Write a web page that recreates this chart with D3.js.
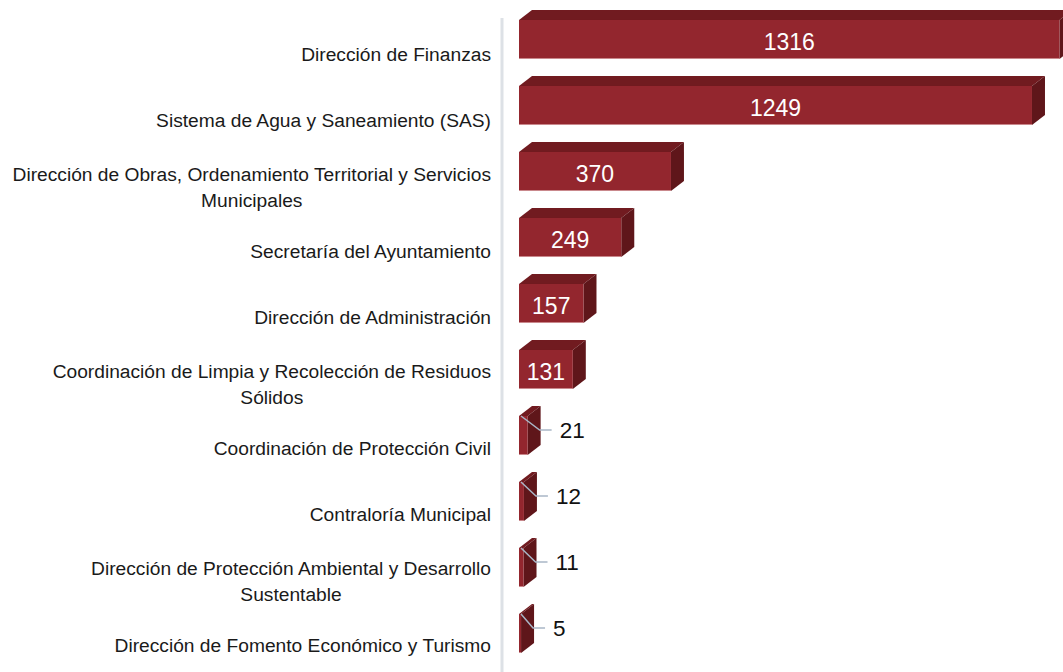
<!DOCTYPE html>
<html>
<head>
<meta charset="utf-8">
<script src="https://cdn.jsdelivr.net/npm/d3@7"></script>
<style>
  body { margin: 0; background: #fff; }
  svg { display: block; font-family: "Liberation Sans", Arial, sans-serif; }
</style>
</head>
<body>
<svg id="chart" width="1063" height="672"></svg>
<script>
// data
const categories = [
    'Dirección de Finanzas',
    'Sistema de Agua y Saneamiento (SAS)',
    'Dirección de Obras, Ordenamiento Territorial y Servicios\nMunicipales',
    'Secretaría del Ayuntamiento',
    'Dirección de Administración',
    'Coordinación de Limpia y Recolección de Residuos\nSólidos',
    'Coordinación de Protección Civil',
    'Contraloría Municipal',
    'Dirección de Protección Ambiental y Desarrollo\nSustentable',
    'Dirección de Fomento Económico y Turismo'
];
const values = [1316, 1249, 370, 249, 157, 131, 21, 12, 11, 5];

const svg = d3.select('#chart');
const depth = { dx: 13, dy: 10 }; // 3d offset of the boxes
const colors = { front: '#93262e', top: '#711b20', side: '#5f161a', leader: '#a9b6c6' };

const x = d3.scaleLinear().domain([0, 1316]).range([519, 1059.5]);
const y = d3.scaleBand()
    .domain(categories)
    .range([6.5, 666.5])
    .paddingInner(0.409)
    .paddingOuter(0.2045);
// the category labels sit on the chart floor, a bit below the boxes
const labelY = d3.scalePoint()
    .domain(categories)
    .range([54, 645]);

// vertical axis line
svg.append('line')
    .attr('x1', 502).attr('x2', 502)
    .attr('y1', 18).attr('y2', 672)
    .attr('stroke', '#dde1e6')
    .attr('stroke-width', 3);

const rows = categories.map((c, i) => ({ name: c, value: values[i] }));

const bars = svg.append('g')
    .selectAll('g')
    .data(rows)
    .enter()
    .append('g')
    .attr('class', 'bar');

// top face
bars.append('path')
    .attr('fill', colors.top)
    .attr('d', d => {
        const x0 = x(0), x1 = x(d.value), y0 = y(d.name);
        return `M${x0},${y0}L${x0 + depth.dx},${y0 - depth.dy}L${x1 + depth.dx},${y0 - depth.dy}L${x1},${y0}Z`;
    });

// side face
bars.append('path')
    .attr('fill', colors.side)
    .attr('d', d => {
        const x1 = x(d.value), y0 = y(d.name), y1 = y0 + y.bandwidth();
        return `M${x1},${y0}L${x1 + depth.dx},${y0 - depth.dy}L${x1 + depth.dx},${y1 - depth.dy}L${x1},${y1}Z`;
    });

// front face
bars.append('rect')
    .attr('x', x(0))
    .attr('y', d => y(d.name))
    .attr('width', d => x(d.value) - x(0))
    .attr('height', y.bandwidth())
    .attr('fill', colors.front);

// thin light edge at the bottom of the front face
bars.append('line')
    .attr('x1', x(0))
    .attr('x2', d => x(d.value))
    .attr('y1', d => y(d.name) + y.bandwidth() - 0.5)
    .attr('y2', d => y(d.name) + y.bandwidth() - 0.5)
    .attr('stroke', '#c9888c')
    .attr('stroke-width', 1);

// value labels: inside for the big boxes, outside with a leader for the thin ones
const inside = d => x(d.value) - x(0) > 40;

bars.filter(inside)
    .append('text')
    .attr('x', d => (x(0) + x(d.value)) / 2)
    .attr('y', d => y(d.name) + y.bandwidth() / 2 + 2)
    .attr('text-anchor', 'middle')
    .attr('dominant-baseline', 'central')
    .attr('fill', '#fff')
    .attr('font-size', 23)
    .text(d => d.value);

const outside = bars.filter(d => !inside(d));
outside.append('polyline')
    .attr('fill', 'none')
    .attr('stroke', colors.leader)
    .attr('stroke-width', 1.5)
    .attr('points', d => {
        const y0 = y(d.name);
        const bx = x(d.value) + depth.dx - 1, by = y0 + 14;
        return `${x(0) + 2},${y0}  ${bx},${by} ${bx + 12},${by}`;
    });
outside.append('text')
    .attr('x', d => x(d.value) + depth.dx + 19)
    .attr('y', d => y(d.name) + 15)
    .attr('dominant-baseline', 'central')
    .attr('fill', '#111')
    .attr('font-size', 22.5)
    .text(d => d.value);

// category labels, wrapped lines centred under each other, right edge at 491
const labels = svg.append('g')
    .selectAll('text')
    .data(categories)
    .enter()
    .append('text')
    .attr('fill', '#1a1a1a')
    .attr('font-size', 19.2)
    .attr('text-anchor', 'middle')
    .attr('dominant-baseline', 'central');

labels.each(function(d) {
    const t = d3.select(this);
    const lines = d.split('\n');
    const mid = labelY(d) + (lines.length > 1 ? 1.5 : 0);
    lines.forEach((ln, k) => {
        t.append('tspan')
            .attr('y', mid + (k - (lines.length - 1) / 2) * 26)
            .text(ln);
    });
    let w = 0;
    t.selectAll('tspan').each(function() { w = Math.max(w, this.getComputedTextLength()); });
    t.selectAll('tspan').attr('x', 491 - w / 2);
});
</script>
</body>
</html>
